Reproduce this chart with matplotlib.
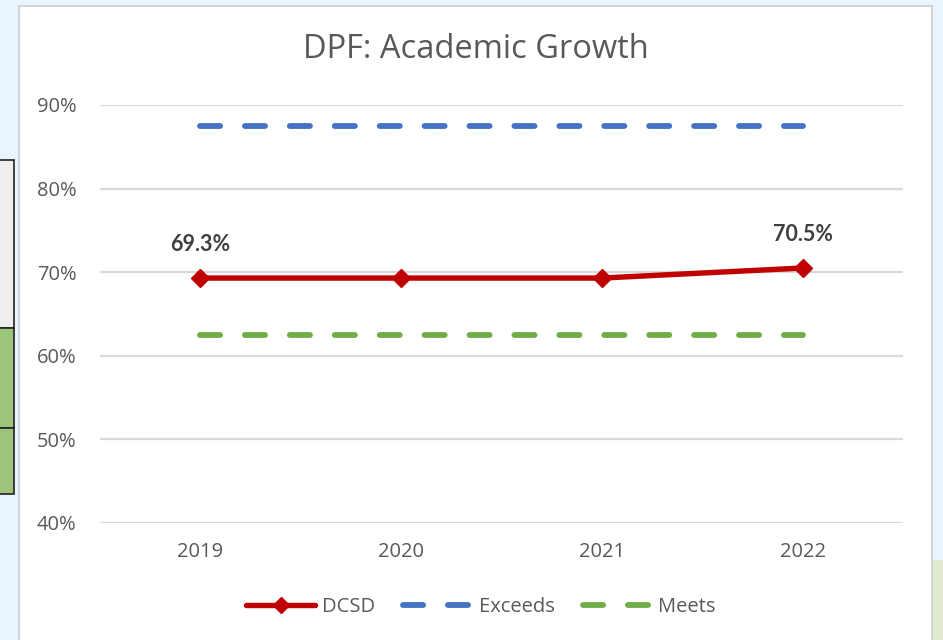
import matplotlib
matplotlib.use("Agg")
import matplotlib.pyplot as plt
from matplotlib.patches import Rectangle
from matplotlib.lines import Line2D

years = ["2019", "2020", "2021", "2022"]
dcsd = [69.3, 69.3, 69.3, 70.5]
exceeds = [87.5, 87.5, 87.5, 87.5]
meets = [62.5, 62.5, 62.5, 62.5]
label_idx = [0, 3]
yticks = [40, 50, 60, 70, 80, 90]

RED = "#c00000"
BLUE = "#4472c4"
GREEN = "#70ad47"
GRID = "#d9d9d9"
TXT = "#595959"

plt.rcParams["font.family"] = ["Open Sans", "DejaVu Sans"]

fig = plt.figure(figsize=(9.43, 6.40), dpi=100)
fig.patch.set_facecolor("#eaf4fc")

W, H = 943.0, 640.0
def fr(x0, y0, x1, y1):
    return (x0 / W, 1 - y1 / H), (x1 - x0) / W, (y1 - y0) / H

# left table fragment
for (x0, y0, x1, y1, c) in [(-5, 160, 14, 328, "#eeeeee"), (-5, 328, 14, 428, "#9cc47a"), (-5, 428, 14, 494, "#9cc47a")]:
    xy, w, h = fr(x0, y0, x1, y1)
    fig.patches.append(Rectangle(xy, w, h, transform=fig.transFigure, facecolor=c,
                                 edgecolor="#222222", linewidth=1.2, zorder=-2))
# bottom-right green tint
xy, w, h = fr(932, 560, 945, 642)
fig.patches.append(Rectangle(xy, w, h, transform=fig.transFigure, facecolor="#dfe9cf",
                             edgecolor="none", zorder=-2))
# chart panel
xy, w, h = fr(19, 6, 932, 660)
fig.patches.append(Rectangle(xy, w, h, transform=fig.transFigure, facecolor="white",
                             edgecolor="#d4d4d4", linewidth=1.5, zorder=-1))

ax = fig.add_axes([100 / W, 1 - 523 / H, (903 - 100) / W, (523 - 105) / H])
ax.set_facecolor("none")
ax.set_zorder(1)
x = list(range(len(years)))

LW_D = 4.2
dash = (3.45, 4.25)
ax.plot(x, exceeds, color=BLUE, lw=LW_D, dashes=dash, dash_capstyle="round", label="Exceeds", zorder=2)
ax.plot(x, meets, color=GREEN, lw=LW_D, dashes=dash, dash_capstyle="round", label="Meets", zorder=2)
ax.plot(x, dcsd, color=RED, lw=3.9, marker="D", markersize=9.5, solid_capstyle="round",
        label="DCSD", zorder=3)

for i in label_idx:
    ax.annotate(f"{dcsd[i]:.1f}%", (x[i], dcsd[i]), xytext=(0, 24), textcoords="offset points",
                ha="center", va="center", fontsize=15.5, fontweight="bold", color="#404040",
                family=["Lato", "DejaVu Sans"])

ax.set_xlim(-0.5, len(years) - 0.5)
ax.set_ylim(40, 90)
ax.set_yticks(yticks)
ax.set_yticklabels([f"{v}%" for v in yticks])
ax.set_xticks(x)
ax.set_xticklabels(years)
ax.tick_params(axis="both", length=0, labelsize=14.5, colors=TXT)
ax.tick_params(axis="y", pad=17)
ax.tick_params(axis="x", pad=14)
ax.grid(axis="y", color=GRID, lw=1.6)
ax.set_axisbelow(True)
for s in ax.spines.values():
    s.set_visible(False)

fig.text(476 / W, 1 - 50 / H, "DPF: Academic Growth", ha="center", va="center",
         fontsize=23.5, color=TXT)

handles = [
    Line2D([], [], color=RED, lw=3.9, marker="D", markersize=8, solid_capstyle="round"),
    Line2D([], [], color=BLUE, lw=LW_D, dashes=dash, dash_capstyle="round"),
    Line2D([], [], color=GREEN, lw=LW_D, dashes=dash, dash_capstyle="round"),
]
fig.legend(handles, ["DCSD", "Exceeds", "Meets"], loc="center", bbox_to_anchor=(481 / W, 1 - 607 / H),
           ncol=3, frameon=False, fontsize=14.5, labelcolor=TXT, handlelength=3.4,
           handletextpad=0.35, columnspacing=1.4)

fig.savefig("out.png", dpi=100, facecolor=fig.get_facecolor())
